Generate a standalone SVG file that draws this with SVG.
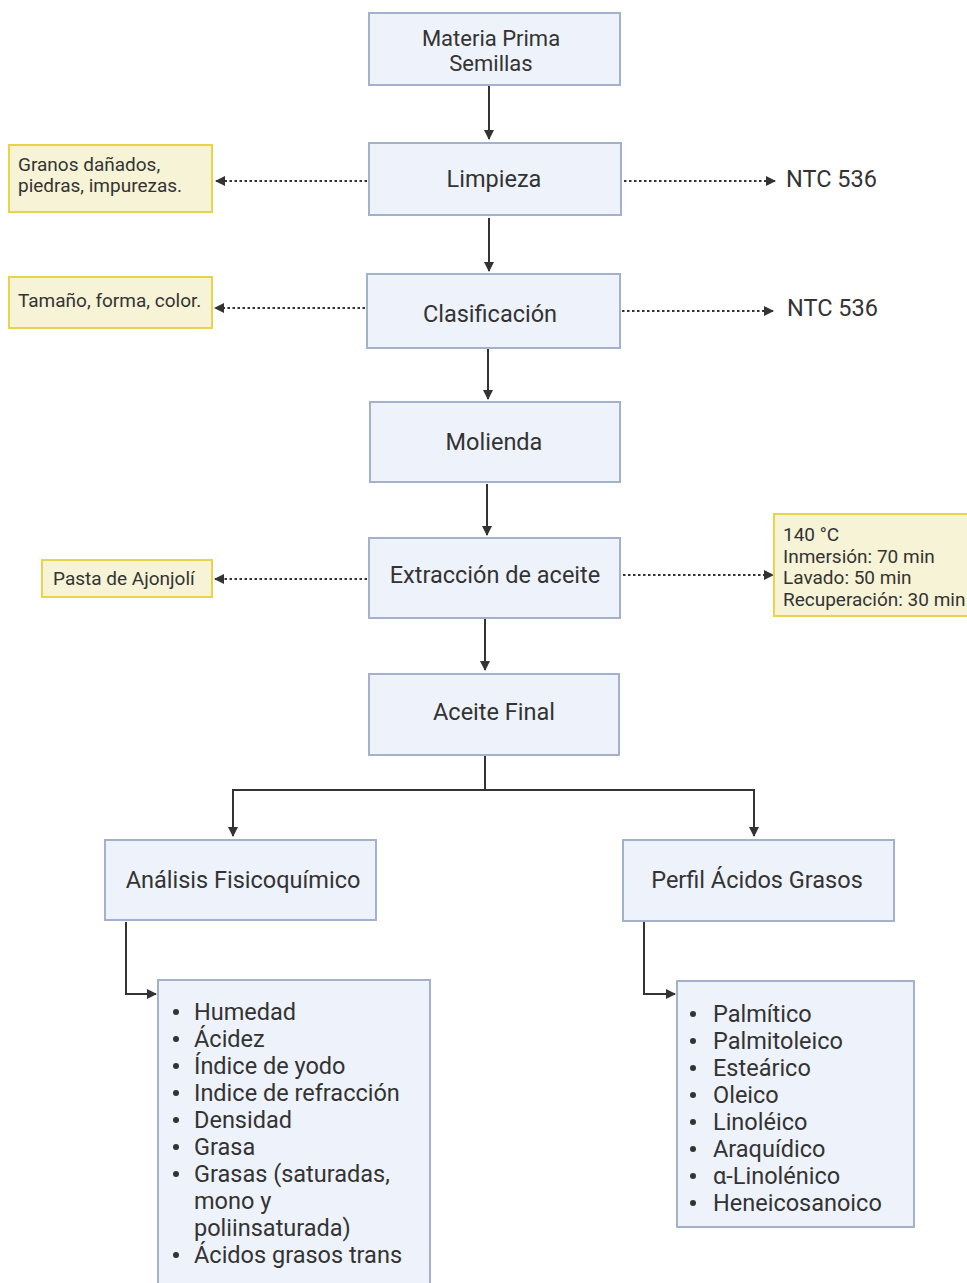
<svg xmlns="http://www.w3.org/2000/svg" width="967" height="1283" viewBox="0 0 967 1283">
<style>
text{font-family:Roboto,"Liberation Sans",sans-serif;fill:#333}
.n{fill:#eef2fa;stroke:#a3b1cc;stroke-width:2}
.y{fill:#f7f3d6;stroke:#e8d34a;stroke-width:2}
.t{font-size:23.5px;text-anchor:middle}
.s{font-size:19px}
.l{font-size:23.5px}
.c{fill:none;stroke:#333;stroke-width:2}
.d{fill:none;stroke:#333;stroke-width:2;stroke-dasharray:2.5,2.5}
.b{fill:#333}
</style>
<defs>
<marker id="a" markerWidth="10" markerHeight="10" refX="9" refY="5" orient="auto" markerUnits="userSpaceOnUse"><path d="M0,0 L10,5 L0,10 z" fill="#333"/></marker>
</defs>
<rect width="967" height="1283" fill="#fff"/>
<g id="connectors">
<path class="c" d="M489,86 V139" marker-end="url(#a)"/>
<path class="c" d="M489,218 V271" marker-end="url(#a)"/>
<path class="c" d="M488,349 V399" marker-end="url(#a)"/>
<path class="c" d="M487,484 V535" marker-end="url(#a)"/>
<path class="c" d="M485,619 V670" marker-end="url(#a)"/>
<path class="c" d="M485,756 V790 H233 V836" marker-end="url(#a)"/>
<path class="c" d="M485,790 H754 V836" marker-end="url(#a)"/>
<path class="c" d="M126,922 V994 H156" marker-end="url(#a)"/>
<path class="c" d="M644,922 V994 H675" marker-end="url(#a)"/>
<path class="d" d="M367,181 H216" marker-end="url(#a)"/>
<path class="d" d="M624,181 H775" marker-end="url(#a)"/>
<path class="d" d="M365,308 H215" marker-end="url(#a)"/>
<path class="d" d="M622,311 H773" marker-end="url(#a)"/>
<path class="d" d="M367,579 H215" marker-end="url(#a)"/>
<path class="d" d="M623,575 H773" marker-end="url(#a)"/>
</g>
<g id="materia"><rect class="n" x="369" y="13" width="251" height="72"/><text class="t" x="491" y="46" style="font-size:22px">Materia Prima</text><text class="t" x="491" y="71" style="font-size:22px">Semillas</text></g>
<g id="limpieza"><rect class="n" x="369" y="143" width="252" height="72"/><text class="t" x="494" y="187">Limpieza</text></g>
<g id="granos"><rect class="y" x="9" y="145" width="203" height="67"/><text class="s" x="18" y="171">Granos dañados,</text><text class="s" x="18" y="192">piedras, impurezas.</text></g>
<g id="ntc1"><text x="786" y="187" style="font-size:23.5px">NTC 536</text></g>
<g id="clasificacion"><rect class="n" x="367" y="274" width="253" height="74"/><text class="t" x="490" y="322">Clasificación</text></g>
<g id="tamano"><rect class="y" x="9" y="277" width="203" height="51"/><text class="s" x="18" y="307">Tamaño, forma, color.</text></g>
<g id="ntc2"><text x="787" y="316" style="font-size:23.5px">NTC 536</text></g>
<g id="molienda"><rect class="n" x="370" y="402" width="250" height="80"/><text class="t" x="494" y="450">Molienda</text></g>
<g id="extraccion"><rect class="n" x="369" y="538" width="251" height="80"/><text class="t" x="495" y="583">Extracción de aceite</text></g>
<g id="pasta"><rect class="y" x="42" y="560" width="170" height="37"/><text class="s" x="53" y="585">Pasta de Ajonjolí</text></g>
<g id="condiciones"><rect class="y" x="774" y="514" width="200" height="102"/><text class="s" x="783" y="541">140 °C</text><text class="s" x="783" y="563">Inmersión: 70 min</text><text class="s" x="783" y="584">Lavado: 50 min</text><text class="s" x="783" y="606">Recuperación: 30 min</text></g>
<g id="aceite"><rect class="n" x="369" y="674" width="250" height="81"/><text class="t" x="494" y="720">Aceite Final</text></g>
<g id="analisis"><rect class="n" x="105" y="840" width="271" height="80"/><text class="t" x="243" y="888">Análisis Fisicoquímico</text></g>
<g id="perfil"><rect class="n" x="623" y="840" width="271" height="81"/><text class="t" x="757" y="888">Perfil Ácidos Grasos</text></g>
<g id="lista1"><rect class="n" x="158" y="980" width="272" height="310"/>
<circle class="b" cx="176" cy="1012" r="3"/><text class="l" x="194" y="1020">Humedad</text>
<circle class="b" cx="176" cy="1039" r="3"/><text class="l" x="194" y="1047">Ácidez</text>
<circle class="b" cx="176" cy="1066" r="3"/><text class="l" x="194" y="1074">Índice de yodo</text>
<circle class="b" cx="176" cy="1093" r="3"/><text class="l" x="194" y="1101">Indice de refracción</text>
<circle class="b" cx="176" cy="1120" r="3"/><text class="l" x="194" y="1128">Densidad</text>
<circle class="b" cx="176" cy="1147" r="3"/><text class="l" x="194" y="1155">Grasa</text>
<circle class="b" cx="176" cy="1174" r="3"/><text class="l" x="194" y="1182">Grasas (saturadas,</text>
<text class="l" x="194" y="1209">mono y</text>
<text class="l" x="194" y="1236">poliinsaturada)</text>
<circle class="b" cx="176" cy="1255" r="3"/><text class="l" x="194" y="1263">Ácidos grasos trans</text>
</g>
<g id="lista2"><rect class="n" x="677" y="981" width="237" height="246"/>
<circle class="b" cx="693" cy="1014" r="3"/><text class="l" x="713" y="1022">Palmítico</text>
<circle class="b" cx="693" cy="1041" r="3"/><text class="l" x="713" y="1049">Palmitoleico</text>
<circle class="b" cx="693" cy="1068" r="3"/><text class="l" x="713" y="1076">Esteárico</text>
<circle class="b" cx="693" cy="1095" r="3"/><text class="l" x="713" y="1103">Oleico</text>
<circle class="b" cx="693" cy="1122" r="3"/><text class="l" x="713" y="1130">Linoléico</text>
<circle class="b" cx="693" cy="1149" r="3"/><text class="l" x="713" y="1157">Araquídico</text>
<circle class="b" cx="693" cy="1176" r="3"/><text class="l" x="713" y="1184">α-Linolénico</text>
<circle class="b" cx="693" cy="1203" r="3"/><text class="l" x="713" y="1211">Heneicosanoico</text>
</g>
</svg>
